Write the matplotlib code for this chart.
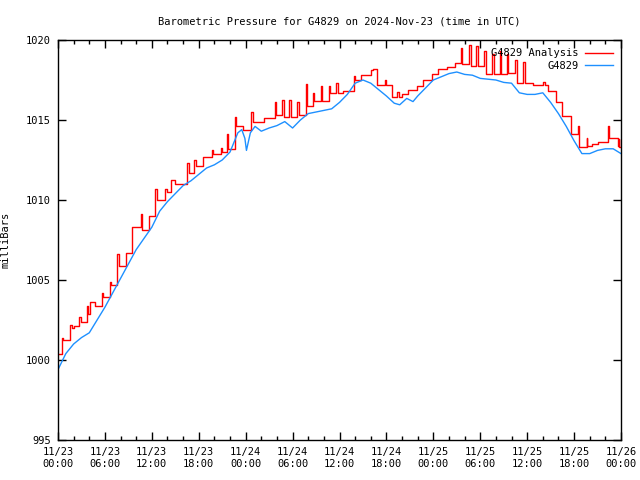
import numpy as np
import pandas as pd
import matplotlib
matplotlib.use("Agg")
import matplotlib.pyplot as plt
import matplotlib.dates as mdates

# Barometric pressure, G4829, 23-26 Nov 2024 (UTC)
start = pd.Timestamp("2024-11-23 00:00")

# station readings (hours since start, millibars)
obs_hours = [0, 1, 2, 3, 4, 5, 6, 7, 8, 9, 10, 11, 12, 13, 14, 15, 16, 17, 18, 19,
             20, 21, 22, 23, 23.5, 23.9, 24.1, 24.6, 25.2, 26, 27, 28, 29, 30, 31,
             32, 33, 34, 35, 36, 37, 38, 39, 40, 41, 42, 43, 43.7, 44.6, 45.4, 46,
             47, 48, 49, 50, 51, 52, 53, 54, 55, 56, 57, 58, 59, 60, 61, 62, 63,
             64, 65, 66, 67, 68, 69, 70, 71, 72]
obs_mb = [999.4, 1000.4, 1001.0, 1001.4, 1001.7, 1002.5, 1003.3, 1004.2, 1005.1,
          1006.0, 1006.9, 1007.6, 1008.3, 1009.3, 1009.9, 1010.4, 1010.9, 1011.2,
          1011.6, 1012.0, 1012.2, 1012.5, 1013.0, 1014.2, 1014.4, 1013.85, 1013.1,
          1014.2, 1014.6, 1014.3, 1014.5, 1014.65, 1014.9, 1014.5, 1015.0, 1015.4,
          1015.5, 1015.6, 1015.7, 1016.1, 1016.6, 1017.3, 1017.5, 1017.3, 1016.9,
          1016.5, 1016.05, 1015.95, 1016.35, 1016.15, 1016.5, 1017.0, 1017.5,
          1017.7, 1017.9, 1018.0, 1017.85, 1017.8, 1017.6, 1017.55, 1017.5, 1017.35,
          1017.3, 1016.7, 1016.6, 1016.6, 1016.7, 1016.1, 1015.4, 1014.6, 1013.7,
          1012.9, 1012.9, 1013.1, 1013.2, 1013.2, 1012.9]

# analysis values (step changes with short spikes)
ana_hours = [0.0, 0.5, 0.7, 1.5, 1.8, 2.0, 2.7, 2.9, 3.7, 3.8, 4.1, 4.7, 5.6, 5.8,
             6.6, 6.8, 7.6, 7.8, 8.7, 9.5, 10.6, 10.7, 11.7, 12.4, 12.6, 13.7, 13.9,
             14.5, 14.9, 16.5, 16.7, 17.4, 17.6, 18.5, 19.7, 19.8, 20.8, 21.0, 21.6,
             21.7, 22.6, 22.8, 23.7, 24.7, 24.9, 26.3, 27.7, 27.9, 28.7, 28.9, 29.6,
             29.8, 30.6, 30.8, 31.7, 31.9, 32.6, 32.8, 33.6, 33.8, 34.6, 34.8, 35.6,
             35.8, 36.4, 37.8, 38.0, 38.8, 40.0, 40.3, 40.75, 41.8, 42.0, 42.7, 43.4,
             43.6, 44.0, 44.8, 45.9, 46.7, 47.8, 48.6, 49.8, 50.8, 51.5, 51.7, 52.6,
             52.8, 53.5, 53.7, 54.5, 54.7, 55.5, 55.7, 56.5, 56.7, 57.4, 57.6, 58.5,
             58.7, 59.5, 59.7, 60.8, 62.0, 62.3, 62.7, 63.7, 64.5, 65.6, 66.5, 66.6,
             67.6, 67.7, 68.3, 69.0, 70.4, 70.5, 71.6, 71.7, 71.8, 72.0]
ana_mb = [1000.4, 1001.35, 1001.25, 1002.2, 1002.0, 1002.1, 1002.7, 1002.4, 1003.4,
          1002.9, 1003.65, 1003.4, 1004.2, 1003.95, 1004.9, 1004.7, 1006.6, 1005.9,
          1006.7, 1008.3, 1009.1, 1008.1, 1009.0, 1010.7, 1010.0, 1010.7, 1010.5,
          1011.25, 1011.0, 1012.3, 1011.7, 1012.5, 1012.1, 1012.7, 1013.1, 1012.9,
          1013.25, 1013.0, 1014.1, 1013.2, 1015.2, 1014.6, 1014.4, 1015.5, 1014.9,
          1015.1, 1016.1, 1015.3, 1016.25, 1015.2, 1016.25, 1015.2, 1016.1, 1015.3,
          1017.25, 1015.9, 1016.7, 1016.2, 1017.1, 1016.2, 1017.1, 1016.7, 1017.3,
          1016.7, 1016.8, 1017.75, 1017.5, 1017.8, 1018.1, 1018.2, 1017.2, 1017.5,
          1017.2, 1016.45, 1016.75, 1016.45, 1016.6, 1016.9, 1017.1, 1017.5, 1017.9,
          1018.2, 1018.3, 1018.55, 1019.5, 1018.5, 1019.7, 1018.4, 1019.6, 1018.4,
          1019.3, 1017.9, 1019.1, 1017.9, 1019.3, 1017.9, 1019.1, 1017.95, 1018.75,
          1017.3, 1018.65, 1017.3, 1017.2, 1017.35, 1017.2, 1016.8, 1016.15, 1015.25,
          1014.1, 1014.6, 1013.3, 1013.85, 1013.4, 1013.5, 1013.6, 1014.6, 1013.85,
          1013.4, 1013.8, 1013.3, 1013.3]

obs_time = start + pd.to_timedelta(obs_hours, unit="h")
ana_time = start + pd.to_timedelta(ana_hours, unit="h")

plt.rcParams["font.family"] = ["DejaVu Sans Mono"]
plt.rcParams["font.size"] = 7.5

fig = plt.figure(figsize=(6.4, 4.8), dpi=100)
ax = fig.add_axes([58 / 640, 1 - 440 / 480, 563 / 640, 400 / 480])

ax.plot(ana_time, ana_mb, color="#ff0000", lw=1, drawstyle="steps-post",
        label="G4829 Analysis")
ax.plot(obs_time, obs_mb, color="#1e90ff", lw=1, label="G4829")

ax.set_xlim(start, start + pd.Timedelta(hours=72))
ax.set_ylim(995, 1020)
ax.set_yticks(np.arange(995, 1021, 5))

ax.xaxis.set_major_locator(mdates.HourLocator(byhour=[0, 6, 12, 18]))
ax.xaxis.set_minor_locator(mdates.HourLocator(byhour=range(0, 24, 2)))
ax.xaxis.set_major_formatter(mdates.DateFormatter("%m/%d\n%H:%M"))

ax.tick_params(which="major", direction="in", length=6, width=1,
               top=True, right=True, pad=5)
ax.tick_params(which="minor", direction="in", length=3, width=1, top=True)
for s in ax.spines.values():
    s.set_linewidth(1)

ax.set_ylabel("milliBars", labelpad=11)
ax.set_title("Barometric Pressure for G4829 on 2024-Nov-23 (time in UTC)",
             fontsize=7.5, pad=11)

ax.legend(loc="upper right", frameon=False, markerfirst=False, handlelength=2.7,
          borderaxespad=0.6, borderpad=0.2, labelspacing=0.25, handletextpad=0.6)

fig.savefig("out.png", dpi=100)
